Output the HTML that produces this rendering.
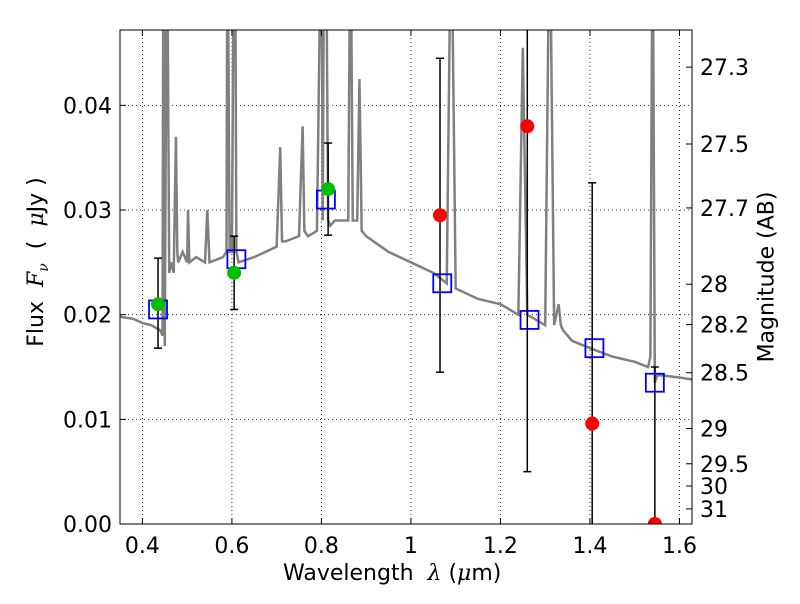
<!DOCTYPE html>
<html><head><meta charset="utf-8"><style>
body{margin:0;background:#fff;font-family:"DejaVu Sans","Liberation Sans",sans-serif}
svg text{font-family:"DejaVu Sans","Liberation Sans",sans-serif}
</style></head><body>
<svg id="c" width="800" height="600"></svg>
<script>
const xTicks=[0.4,0.6,0.8,1.0,1.2,1.4,1.6];
const xTickLabels=["0.4","0.6","0.8","1","1.2","1.4","1.6"];
const yTicks=[0,0.01,0.02,0.03,0.04];
const yTickLabels=["0.00","0.01","0.02","0.03","0.04"];
const magTicks=[27.3,27.5,27.7,28,28.2,28.5,29,29.5,30,31];
const specX=[0.35,0.38,0.40,0.42,0.44,0.445,0.447,0.45,0.455,0.46,0.465,0.47,0.475,0.478,0.48,0.49,0.50,0.502,0.505,0.52,0.54,0.545,0.55,0.58,0.588,0.59,0.595,0.60,0.605,0.607,0.61,0.615,0.65,0.70,0.708,0.712,0.72,0.75,0.758,0.762,0.77,0.79,0.80,0.803,0.806,0.81,0.815,0.82,0.83,0.86,0.865,0.87,0.88,0.885,0.89,0.90,0.95,1.0,1.05,1.08,1.09,1.10,1.15,1.2,1.24,1.25,1.26,1.28,1.30,1.31,1.32,1.33,1.335,1.34,1.36,1.40,1.45,1.50,1.53,1.535,1.54,1.545,1.55,1.56,1.60,1.63];
const specY=[0.0198,0.0196,0.0192,0.0190,0.0185,0.018,0.06,0.017,0.06,0.024,0.025,0.024,0.037,0.026,0.025,0.026,0.025,0.030,0.025,0.0255,0.025,0.030,0.025,0.0255,0.026,0.06,0.026,0.026,0.06,0.06,0.026,0.025,0.0255,0.0265,0.036,0.027,0.027,0.0275,0.038,0.028,0.0275,0.028,0.06,0.029,0.06,0.06,0.029,0.0285,0.029,0.029,0.06,0.029,0.029,0.0425,0.028,0.0275,0.026,0.025,0.024,0.023,0.06,0.0225,0.0215,0.021,0.020,0.0455,0.020,0.0195,0.019,0.06,0.019,0.021,0.019,0.0185,0.0175,0.0168,0.016,0.0155,0.015,0.016,0.06,0.0135,0.0142,0.0142,0.014,0.0138];
const obsX=[0.435,0.605,0.815,1.065,1.26,1.405,1.545];
const obsY=[0.021,0.024,0.032,0.0295,0.038,0.0096,0.0];
const errLo=[0.0168,0.0205,0.0276,0.0145,0.005,-0.001,0.0];
const errHi=[0.0254,0.0275,0.0364,0.0445,0.06,0.0326,0.015];
const obsDetected=[true,true,true,false,false,false,false];
const modX=[0.435,0.61,0.81,1.07,1.265,1.41,1.545];
const modY=[0.0205,0.0253,0.031,0.023,0.0195,0.0168,0.0135];

const L=120,R=692,T=30,B=524,xmin=0.35,xmax=1.628,ymin=0,ymax=0.0472;
const sx=v=>L+(v-xmin)/(xmax-xmin)*(R-L);
const sy=v=>B-(v-ymin)/(ymax-ymin)*(B-T);
const svg=document.getElementById('c');const NS='http://www.w3.org/2000/svg';
function mk(t,a,p){const e=document.createElementNS(NS,t);for(const k in a)e.setAttribute(k,a[k]);(p||svg).appendChild(e);return e;}
const defs=mk('defs',{});const cp=mk('clipPath',{id:'cl'},defs);mk('rect',{x:L,y:T,width:R-L,height:B-T},cp);
const grid=mk('g',{});
xTicks.forEach(v=>mk('line',{x1:sx(v),x2:sx(v),y1:T,y2:B,stroke:'#000','stroke-dasharray':'1,3','stroke-width':0.8},grid));
yTicks.forEach(v=>mk('line',{x1:L,x2:R,y1:sy(v),y2:sy(v),stroke:'#000','stroke-dasharray':'1,3','stroke-width':0.8},grid));
const plot=mk('g',{'clip-path':'url(#cl)'});
const sp=mk('polyline',{points:specX.map((x,i)=>sx(x)+','+sy(specY[i])).join(' '),fill:'none',stroke:'#808080','stroke-width':2.5},plot);

obsX.forEach((x,i)=>{const g=mk('g',{},plot);

mk('line',{x1:sx(x),x2:sx(x),y1:sy(errLo[i]),y2:sy(errHi[i]),stroke:'#000','stroke-width':1.5},g);
[errLo[i],errHi[i]].forEach(v=>mk('line',{x1:sx(x)-4,x2:sx(x)+4,y1:sy(v),y2:sy(v),stroke:'#000','stroke-width':1.5},g));});
modX.forEach((x,i)=>{const r=mk('rect',{x:sx(x)-9,y:sy(modY[i])-9,width:18,height:18,fill:'none',stroke:'#0000ff','stroke-width':1.8},plot);
});
obsX.forEach((x,i)=>{const c=mk('circle',{cx:sx(x),cy:sy(obsY[i]),r:7,fill:obsDetected[i]?'#00bf00':'#ff0000'},plot);
});
mk('rect',{x:L,y:T,width:R-L,height:B-T,fill:'none',stroke:'#000','stroke-width':1});
const ax=mk('g',{'font-size':'22'});
xTicks.forEach((v,i)=>{mk('line',{x1:sx(v),x2:sx(v),y1:B,y2:B-6,stroke:'#000'},ax);mk('line',{x1:sx(v),x2:sx(v),y1:T,y2:T+6,stroke:'#000'},ax);
const t=mk('text',{x:sx(v),y:B+29,'text-anchor':'middle'},ax);t.textContent=xTickLabels[i];});
yTicks.forEach((v,i)=>{mk('line',{x1:L,x2:L+6,y1:sy(v),y2:sy(v),stroke:'#000'},ax);
const t=mk('text',{x:L-8,y:sy(v)+8,'text-anchor':'end'},ax);t.textContent=yTickLabels[i];});
magTicks.forEach(m=>{const y=sy(Math.pow(10,(23.9-m)/2.5));mk('line',{x1:R,x2:R-6,y1:y,y2:y,stroke:'#000'},ax);
const t=mk('text',{x:R+8,y:y+8},ax);t.textContent=String(m);});
</script>
<div style="position:absolute;left:283px;top:561px;font-size:22px">Wavelength &nbsp;<i style="font-family:'DejaVu Serif',serif">λ</i> (<i style="font-family:'DejaVu Serif',serif">μ</i>m)</div>
<div style="position:absolute;left:38px;top:262px;font-size:22px;transform:translate(-50%,-50%) rotate(-90deg);white-space:nowrap">Flux &nbsp;<i style="font-family:'DejaVu Serif',serif">F<sub style="font-size:14px">ν</sub></i> &nbsp;( &nbsp;<i style="font-family:'DejaVu Serif',serif">μ</i>Jy )</div>
<div style="position:absolute;left:767px;top:277px;font-size:22px;transform:translate(-50%,-50%) rotate(-90deg);white-space:nowrap">Magnitude (AB)</div>
</body></html>
